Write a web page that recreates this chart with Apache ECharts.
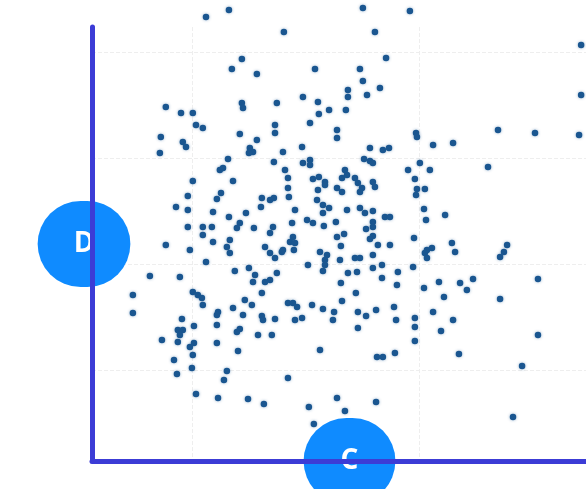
<!DOCTYPE html>
<html>
<head>
<meta charset="utf-8">
<script src="https://cdn.jsdelivr.net/npm/echarts@6/dist/echarts.min.js"></script>
<style>
  html, body { margin: 0; padding: 0; background: #ffffff; }
  #chart { width: 586px; height: 489px; }
</style>
</head>
<body>
<div id="chart"></div>
<script>
// Axis names
const xAxisName = 'C';
const yAxisName = 'D';

// Axis ranges (value units)
const xRange = [5.6, 28.28];
const yRange = [1.42, 42.36];

// Scatter points: x values and y values (same order)
const xValues = [
  10.62, 11.63, 14.05, 12.20, 11.76, 12.86, 17.53, 19.60, 18.06, 18.55,
  15.42, 17.40, 17.53, 18.28, 17.71, 16.87, 16.87, 14.89, 27.14, 27.14,
  8.85, 8.63, 8.59, 12.20, 12.25, 13.74, 9.52, 10.04, 10.18, 10.48,
  12.11, 13.66, 13.66, 9.60, 9.74, 12.86, 12.55, 12.69, 12.51, 14.85,
  14.01, 15.55, 16.04, 15.59, 15.20, 16.39, 16.39, 11.59, 13.61, 14.89,
  15.20, 15.20, 11.23, 11.37, 14.10, 14.23, 14.23, 14.27, 10.04, 11.81,
  15.33, 15.59, 15.86, 15.86, 15.55, 16.39, 9.82, 11.28, 11.10, 13.08,
  13.44, 13.61, 13.04, 9.30, 9.82, 10.93, 12.38, 11.63, 14.54, 15.51,
  15.77, 16.04, 15.77, 15.07, 15.33, 14.41, 15.81, 16.34, 9.82, 10.48,
  10.88, 10.48, 12.11, 11.98, 12.73, 13.57, 13.44, 10.93, 11.67, 11.54,
  13.22, 14.45, 14.32, 14.54, 16.39, 9.91, 16.78, 19.87, 19.91, 20.62,
  21.50, 17.84, 18.41, 18.68, 23.48, 17.58, 17.84, 17.97, 20.04, 19.52,
  20.48, 23.04, 16.74, 16.61, 16.83, 17.18, 17.31, 17.49, 17.40, 16.61,
  17.97, 18.06, 19.82, 19.91, 20.26, 19.87, 16.83, 17.40, 17.62, 17.97,
  17.97, 17.97, 18.50, 18.72, 20.22, 21.15, 20.31, 17.67, 16.70, 17.97,
  17.84, 19.78, 21.45, 16.56, 18.19, 18.72, 20.57, 20.35, 25.11, 27.05,
  8.85, 11.67, 10.62, 8.15, 9.47, 11.89, 12.51, 12.78, 12.69, 13.44,
  13.66, 13.96, 13.74, 13.44, 13.08, 7.40, 7.40, 10.04, 10.26, 10.44,
  10.48, 12.33, 12.64, 11.81, 11.15, 11.10, 12.25, 13.08, 13.13, 13.66,
  14.23, 9.56, 9.38, 9.60, 9.47, 9.38, 10.09, 11.10, 12.11, 11.98,
  12.91, 13.52, 8.68, 10.09, 9.91, 10.04, 11.10, 12.03, 9.21, 10.00,
  9.34, 11.54, 11.41, 14.23, 10.18, 11.15, 12.47, 13.17, 14.49, 20.26,
  20.35, 15.64, 15.95, 15.86, 15.86, 15.77, 15.11, 16.52, 17.18, 17.40,
  17.97, 17.27, 16.87, 17.97, 18.37, 19.07, 19.74, 18.37, 16.56, 19.03,
  17.22, 20.22, 20.88, 21.10, 14.45, 14.63, 14.54, 14.85, 15.29, 15.77,
  16.26, 16.21, 16.61, 17.31, 17.67, 18.11, 18.90, 18.99, 19.82, 19.82,
  19.82, 20.62, 20.97, 17.31, 15.64, 18.15, 18.41, 18.94, 23.88, 23.74,
  23.57, 21.59, 25.24, 23.57, 22.38, 21.81, 22.11, 21.50, 21.76, 25.24,
  24.54, 24.14, 16.39, 16.74, 15.15, 18.11, 15.37, 13.22, 14.01
];
const yValues = [
  43.30, 43.96, 41.89, 39.34, 38.40, 37.92, 44.15, 43.87, 41.89, 39.43,
  38.40, 38.40, 37.26, 36.60, 35.94, 36.42, 35.75, 35.75, 40.66, 35.94,
  34.81, 31.98, 30.47, 35.19, 34.72, 35.19, 34.25, 34.25, 33.11, 32.83,
  32.26, 33.11, 32.36, 31.51, 31.04, 31.70, 30.94, 30.57, 30.47, 31.04,
  30.57, 35.28, 34.53, 34.15, 33.30, 32.64, 31.89, 29.91, 29.62, 29.53,
  29.81, 29.34, 28.87, 29.06, 28.87, 28.11, 27.17, 26.32, 27.83, 27.83,
  28.02, 28.21, 27.74, 27.45, 26.98, 27.17, 26.42, 26.70, 26.13, 26.23,
  26.04, 26.23, 25.38, 25.38, 25.09, 24.91, 24.81, 24.43, 25.09, 26.04,
  25.57, 25.28, 24.81, 24.15, 23.87, 23.87, 23.58, 23.96, 23.49, 23.49,
  23.49, 22.74, 23.87, 23.40, 23.40, 23.49, 22.92, 22.08, 22.26, 21.60,
  21.60, 22.55, 22.08, 21.98, 22.55, 21.32, 34.53, 32.36, 31.98, 31.23,
  31.42, 30.94, 30.75, 30.94, 32.64, 29.91, 29.72, 29.53, 29.53, 28.87,
  28.87, 29.15, 28.87, 28.11, 28.40, 28.11, 27.64, 27.17, 26.79, 26.79,
  27.74, 27.26, 28.02, 27.08, 27.08, 26.51, 25.09, 25.28, 24.81, 25.00,
  23.96, 23.49, 24.43, 24.43, 25.19, 24.62, 24.15, 23.30, 22.83, 22.64,
  22.36, 22.45, 21.98, 21.70, 21.79, 21.79, 21.51, 21.32, 32.36, 32.17,
  21.79, 21.04, 20.19, 18.87, 18.77, 19.34, 19.62, 18.96, 18.30, 21.04,
  20.57, 21.13, 19.15, 18.49, 17.26, 17.08, 15.38, 17.36, 17.08, 16.79,
  16.13, 16.60, 16.13, 15.85, 15.47, 15.19, 15.19, 15.09, 14.72, 14.81,
  16.32, 14.81, 13.77, 13.77, 13.30, 12.64, 14.15, 14.25, 13.87, 13.58,
  13.30, 13.30, 12.83, 12.55, 12.17, 11.42, 12.55, 11.79, 10.94, 10.19,
  9.62, 9.91, 9.06, 9.25, 7.74, 7.36, 7.26, 6.79, 21.32, 21.04,
  20.57, 21.13, 20.85, 20.38, 19.91, 19.34, 19.91, 20.38, 20.57, 20.57,
  20.85, 19.25, 19.15, 19.62, 19.91, 19.25, 19.72, 18.68, 18.21, 18.02,
  17.26, 17.74, 18.30, 16.89, 16.32, 15.94, 14.72, 14.91, 16.13, 15.75,
  15.47, 14.72, 16.51, 15.47, 15.09, 15.66, 15.94, 14.72, 14.91, 14.06,
  12.74, 15.47, 13.68, 13.96, 11.89, 11.23, 11.23, 11.60, 21.79, 21.13,
  20.66, 21.13, 18.58, 16.70, 18.58, 18.21, 17.55, 14.72, 11.51, 13.30,
  10.38, 5.57, 7.36, 6.13, 6.51, 6.98, 4.91, 18.30, 21.32
];

const points = xValues.map(function (x, i) { return [x, yValues[i]]; });

const axisLineColor = '#3c3cd6';
function nameBadge(padH) {
  return {
    color: '#ffffff',
    fontSize: 28,
    fontWeight: 'bold',
    fontFamily: 'Open Sans, sans-serif',
    backgroundColor: '#0f8bff',
    borderRadius: 46,
    lineHeight: 30,
    padding: [28, padH],
    align: 'center',
    verticalAlign: 'middle'
  };
}

const chart = echarts.init(document.getElementById('chart'), null, { renderer: 'canvas' });
chart.setOption({
  backgroundColor: '#ffffff',
  animation: false,
  grid: { left: 92, top: 27, width: 515, height: 434, containLabel: false, outerBoundsMode: 'none' },
  xAxis: {
    type: 'value',
    min: xRange[0],
    max: xRange[1],
    splitNumber: 2,
    name: xAxisName,
    nameLocation: 'middle',
    nameGap: 0,
    nameTextStyle: nameBadge(37),
    axisLine: { show: true, onZero: false, lineStyle: { color: axisLineColor, width: 5 } },
    axisTick: { show: false },
    axisLabel: { show: false },
    splitLine: { show: true, showMinLine: false, showMaxLine: false, lineStyle: { color: '#eeeeee', type: 'dashed', width: 1 } }
  },
  yAxis: {
    type: 'value',
    min: yRange[0],
    max: yRange[1],
    splitNumber: 4,
    name: yAxisName,
    nameLocation: 'middle',
    nameRotate: 0,
    nameGap: 8,
    nameTextStyle: nameBadge(36),
    axisLine: { show: true, onZero: false, lineStyle: { color: axisLineColor, width: 5 } },
    axisTick: { show: false },
    axisLabel: { show: false },
    splitLine: { show: true, showMinLine: false, showMaxLine: false, lineStyle: { color: '#eeeeee', type: 'dashed', width: 1 } }
  },
  series: [{
    type: 'scatter',
    data: points,
    symbol: 'circle',
    symbolSize: 6.5,
    clip: false,
    itemStyle: {
      color: '#1a5690',
      opacity: 1,
      shadowBlur: 3,
      shadowColor: 'rgba(26, 86, 144, 0.45)'
    }
  }]
});
</script>
</body>
</html>
